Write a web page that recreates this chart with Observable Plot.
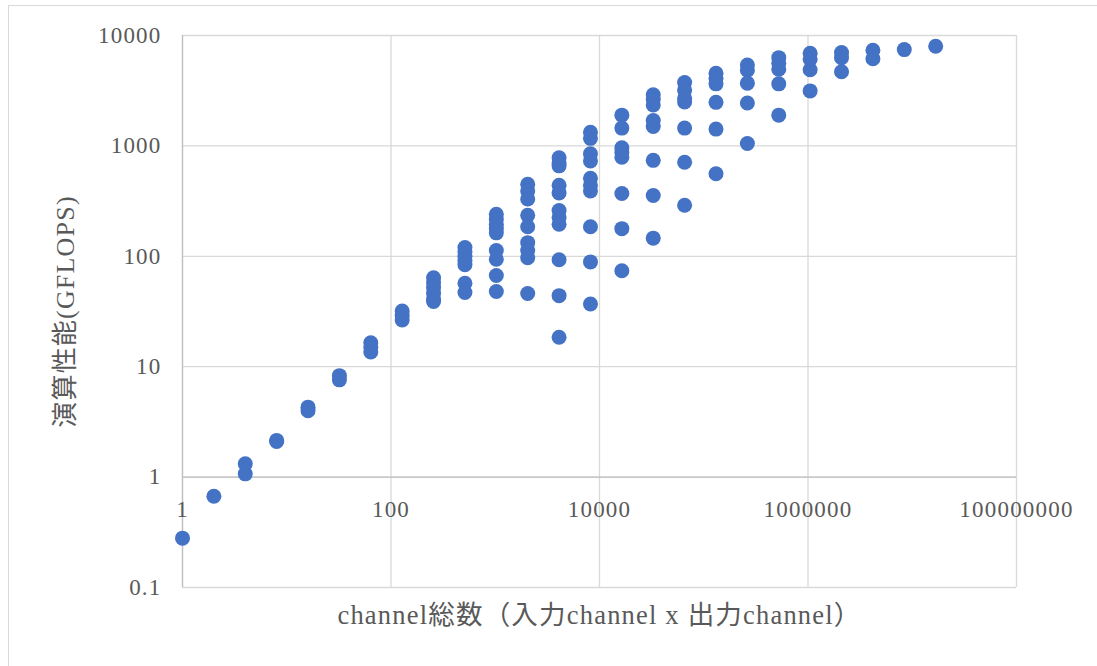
<!DOCTYPE html>
<html>
<head>
<meta charset="utf-8">
<script src="https://cdn.jsdelivr.net/npm/d3@7"></script>
<script src="https://cdn.jsdelivr.net/npm/@observablehq/plot@0.6"></script>
<style>
  html, body { margin: 0; padding: 0; background: #fff; }
  #wrap { position: relative; width: 1097px; height: 666px; overflow: hidden; }
  #frame { position: absolute; left: 8px; top: 5px; width: 1200px; height: 800px;
           border-left: 1.5px solid #d9d9d9; border-top: 1.5px solid #d9d9d9; }
  #wrap svg { position: absolute; left: 0; top: 0; }
  #wrap svg text { letter-spacing: 1.2px; }
</style>
</head>
<body>
<div id="wrap"><div id="frame"></div></div>
<script>
// channel total (input channel x output channel), one entry per point
const channels = [
  1,
  2,
  4, 4,
  8, 8,
  16, 16,
  32, 32,
  64, 64, 64,
  128, 128, 128,
  256, 256, 256, 256, 256, 256,
  512, 512, 512, 512, 512, 512, 512,
  1024, 1024, 1024, 1024, 1024, 1024, 1024, 1024, 1024,
  2048, 2048, 2048, 2048, 2048, 2048, 2048, 2048, 2048,
  4096, 4096, 4096, 4096, 4096, 4096, 4096, 4096, 4096, 4096, 4096,
  8192, 8192, 8192, 8192, 8192, 8192, 8192, 8192, 8192, 8192,
  16384, 16384, 16384, 16384, 16384, 16384, 16384, 16384,
  32768, 32768, 32768, 32768, 32768, 32768, 32768, 32768,
  65536, 65536, 65536, 65536, 65536, 65536, 65536,
  131072, 131072, 131072, 131072, 131072, 131072,
  262144, 262144, 262144, 262144, 262144,
  524288, 524288, 524288, 524288, 524288,
  1048576, 1048576, 1048576, 1048576,
  2097152, 2097152, 2097152,
  4194304, 4194304,
  8388608,
  16777216
];
// performance (GFLOPS)
const gflops = [
  0.28,
  0.67,
  1.32, 1.07,
  2.1, 2.15,
  4.3, 4.0,
  8.3, 7.6,
  16.5, 15, 13.6,
  32, 29, 26.5,
  64, 58, 52, 46, 41, 39,
  120, 110, 100, 92, 84, 57, 47,
  240, 215, 195, 178, 163, 113, 94, 67, 48,
  450, 390, 330, 235, 185, 133, 113, 97, 46,
  780, 700, 660, 440, 375, 260, 225, 195, 93, 44, 18.5,
  1330, 1170, 850, 730, 510, 440, 390, 185, 89, 37,
  1900, 1450, 960, 870, 790, 370, 178, 74,
  2900, 2650, 2350, 1700, 1500, 740, 355, 146,
  3750, 3200, 2700, 2500, 1450, 710, 290,
  4550, 4100, 3650, 2480, 1420, 560,
  5400, 4850, 3700, 2450, 1050,
  6300, 5600, 4950, 3650, 1900,
  6900, 6100, 4900, 3150,
  7000, 6300, 4700,
  7350, 6150,
  7450,
  8000
];
const xTicks = [1, 100, 10000, 1000000, 100000000];
const yTicks = [0.1, 1, 10, 100, 1000, 10000];
const xTitle = "channel総数（入力channel x 出力channel）";
const yTitle = "演算性能(GFLOPS)";

const data = channels.map((c, i) => ({c, g: gflops[i]}));
const fmt = d => String(d);
const gridColor = "#d9d9d9";
const axisColor = "#bfbfbf";

const chart = Plot.plot({
  width: 1097,
  height: 666,
  marginLeft: 182,
  marginRight: 81,
  marginTop: 35,
  marginBottom: 79,
  style: {
    fontFamily: "'Liberation Serif', 'Noto Sans CJK JP', serif",
    fontSize: "23px",
    color: "#595959",
    background: "transparent"
  },
  x: {type: "log", domain: [1, 100000000]},
  y: {type: "log", domain: [0.1, 10000]},
  marks: [
    Plot.gridX(xTicks, {stroke: gridColor, strokeOpacity: 1, strokeWidth: 1.3}),
    Plot.gridY(yTicks, {stroke: gridColor, strokeOpacity: 1, strokeWidth: 1.3}),
    Plot.ruleX([1], {stroke: axisColor, strokeWidth: 1.3}),
    Plot.ruleY([1], {stroke: axisColor, strokeWidth: 1.3}),
    Plot.axisY(yTicks, {tickSize: 0, tickPadding: 21, tickFormat: fmt, label: null, fontSize: 23}),
    Plot.axisX([], {label: null}),
    Plot.text(xTicks, {x: d => d, y: xTicks.map(() => 1), text: fmt, dy: 33, fontSize: 23, lineAnchor: "middle"}),
    Plot.dot(data, {x: "c", y: "g", r: 7.5, fill: "#4472C4", stroke: "none"}),
    Plot.text([xTitle], {frameAnchor: "bottom", dy: 28, fontSize: 26.5, lineAnchor: "middle", textAnchor: "middle"}),
    Plot.text([yTitle], {frameAnchor: "left", dx: -117, rotate: -90, fontSize: 26, lineAnchor: "middle", textAnchor: "middle"})
  ]
});
document.getElementById("wrap").appendChild(chart);
</script>
</body>
</html>
